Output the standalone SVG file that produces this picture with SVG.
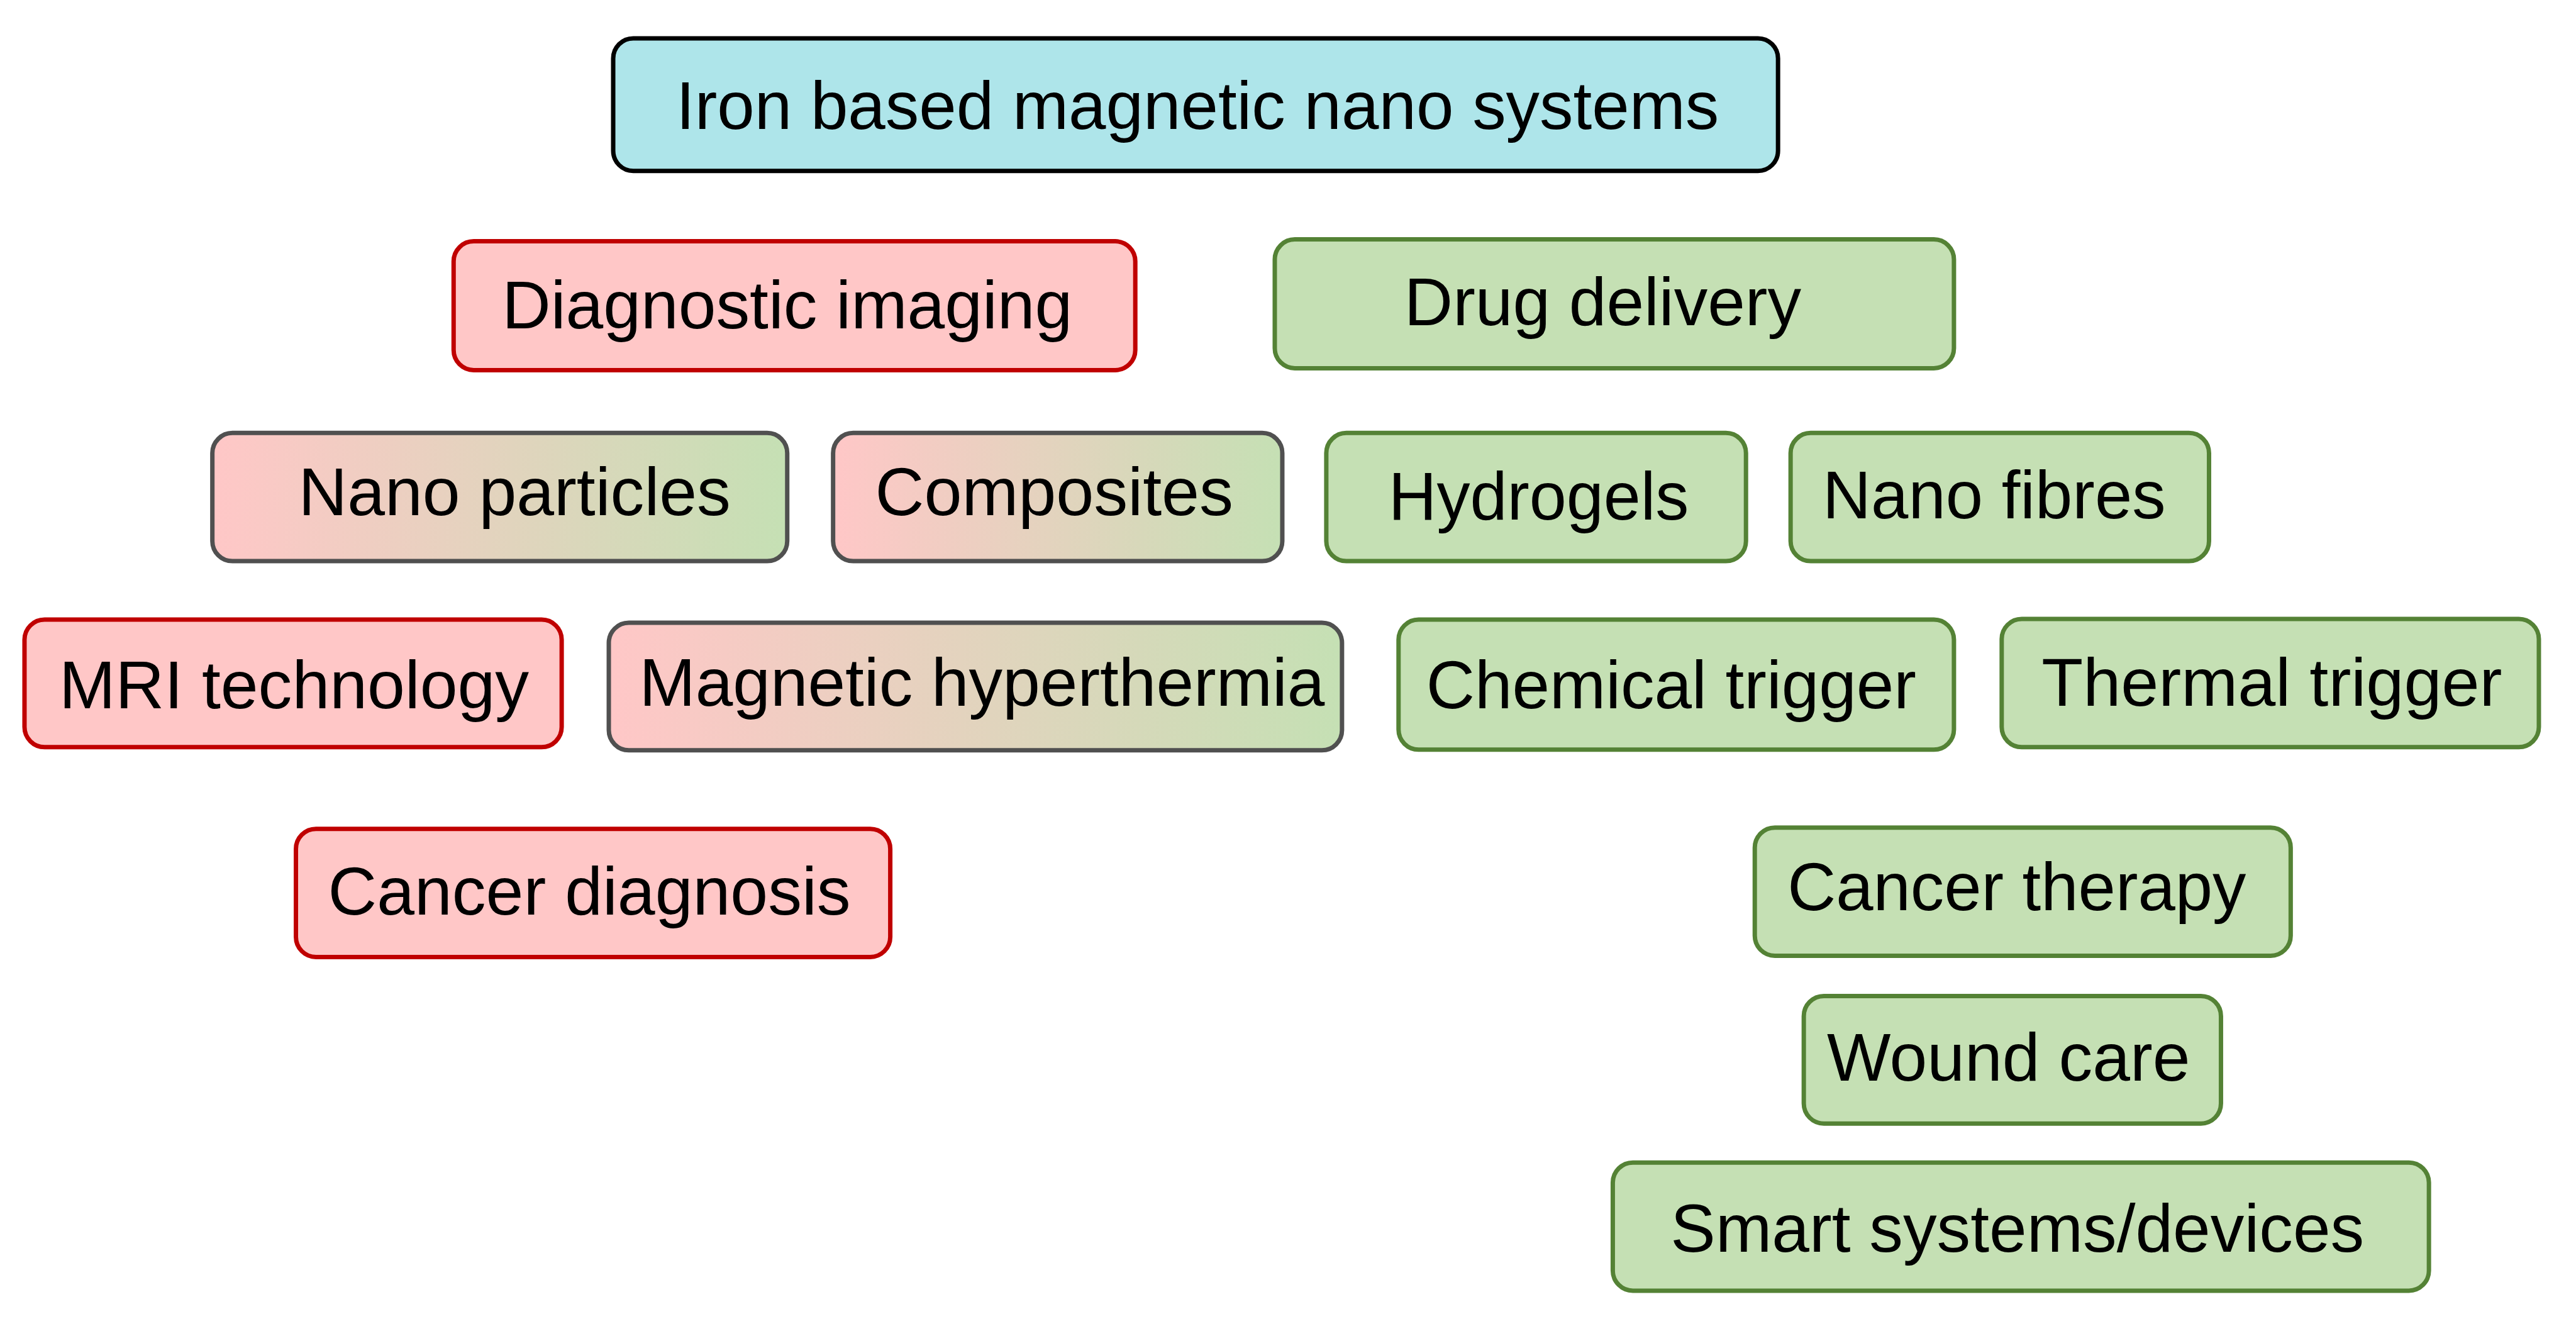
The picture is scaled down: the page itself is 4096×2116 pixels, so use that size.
<svg xmlns="http://www.w3.org/2000/svg" width="4096" height="2116" viewBox="0 0 4096 2116">
<defs>
<linearGradient id="mix" x1="0" y1="0" x2="1" y2="0">
<stop offset="0" stop-color="#FFC7C7"/>
<stop offset="1" stop-color="#C5E0B4"/>
</linearGradient>
</defs>
<style>
rect{stroke-width:7}
.root{fill:#AEE5EA;stroke:#000}
.red{fill:#FFC7C7;stroke:#C00000}
.green{fill:#C5E0B4;stroke:#548235}
.mix{fill:url(#mix);stroke:#505050}
text{font-family:"Liberation Sans",Arial,sans-serif;font-size:108px;fill:#000;text-anchor:middle}
</style>
<rect width="4096" height="2116" fill="#fff"/>
<g transform="scale(0.999)">
<g id="connectors"></g>
<g id="n-root"><rect class="root" x="976" y="61" width="1854" height="211" rx="32"/><text x="1906" y="205" textLength="1660" lengthAdjust="spacingAndGlyphs">Iron based magnetic nano systems</text></g>
<g id="n-diag"><rect class="red" x="722" y="384" width="1085" height="205" rx="32"/><text x="1253" y="523" textLength="908" lengthAdjust="spacingAndGlyphs">Diagnostic imaging</text></g>
<g id="n-drug"><rect class="green" x="2029" y="381" width="1081" height="205" rx="32"/><text x="2551" y="518" textLength="632" lengthAdjust="spacingAndGlyphs">Drug delivery</text></g>
<g id="n-nanop"><rect class="mix" x="338" y="689" width="915" height="204" rx="32"/><text x="819" y="820" textLength="688" lengthAdjust="spacingAndGlyphs">Nano particles</text></g>
<g id="n-comp"><rect class="mix" x="1326" y="689" width="715" height="204" rx="32"/><text x="1678" y="820" textLength="570" lengthAdjust="spacingAndGlyphs">Composites</text></g>
<g id="n-hydro"><rect class="green" x="2111" y="689" width="668" height="204" rx="32"/><text x="2449" y="827" textLength="478" lengthAdjust="spacingAndGlyphs">Hydrogels</text></g>
<g id="n-fibre"><rect class="green" x="2850" y="689" width="666" height="204" rx="32"/><text x="3174" y="825" textLength="546" lengthAdjust="spacingAndGlyphs">Nano fibres</text></g>
<g id="n-mri"><rect class="red" x="39" y="986" width="855" height="203" rx="32"/><text x="468" y="1127" textLength="748" lengthAdjust="spacingAndGlyphs">MRI technology</text></g>
<g id="n-hyper"><rect class="mix" x="969" y="991" width="1167" height="203" rx="32"/><text x="1563" y="1123" textLength="1091" lengthAdjust="spacingAndGlyphs">Magnetic hyperthermia</text></g>
<g id="n-chem"><rect class="green" x="2226" y="986" width="884" height="207" rx="32"/><text x="2660" y="1127" textLength="780" lengthAdjust="spacingAndGlyphs">Chemical trigger</text></g>
<g id="n-therm"><rect class="green" x="3186" y="985" width="855" height="204" rx="32"/><text x="3616" y="1123" textLength="733" lengthAdjust="spacingAndGlyphs">Thermal trigger</text></g>
<g id="n-cdiag"><rect class="red" x="471" y="1319" width="946" height="204" rx="32"/><text x="938" y="1455" textLength="832" lengthAdjust="spacingAndGlyphs">Cancer diagnosis</text></g>
<g id="n-ctherapy"><rect class="green" x="2793" y="1317" width="853" height="204" rx="32"/><text x="3210" y="1448" textLength="730" lengthAdjust="spacingAndGlyphs">Cancer therapy</text></g>
<g id="n-wound"><rect class="green" x="2871" y="1585" width="664" height="203" rx="32"/><text x="3197" y="1720" textLength="578" lengthAdjust="spacingAndGlyphs">Wound care</text></g>
<g id="n-smart"><rect class="green" x="2567" y="1850" width="1299" height="204" rx="32"/><text x="3211" y="1992" textLength="1104" lengthAdjust="spacingAndGlyphs">Smart systems/devices</text></g>
</g>
</svg>
